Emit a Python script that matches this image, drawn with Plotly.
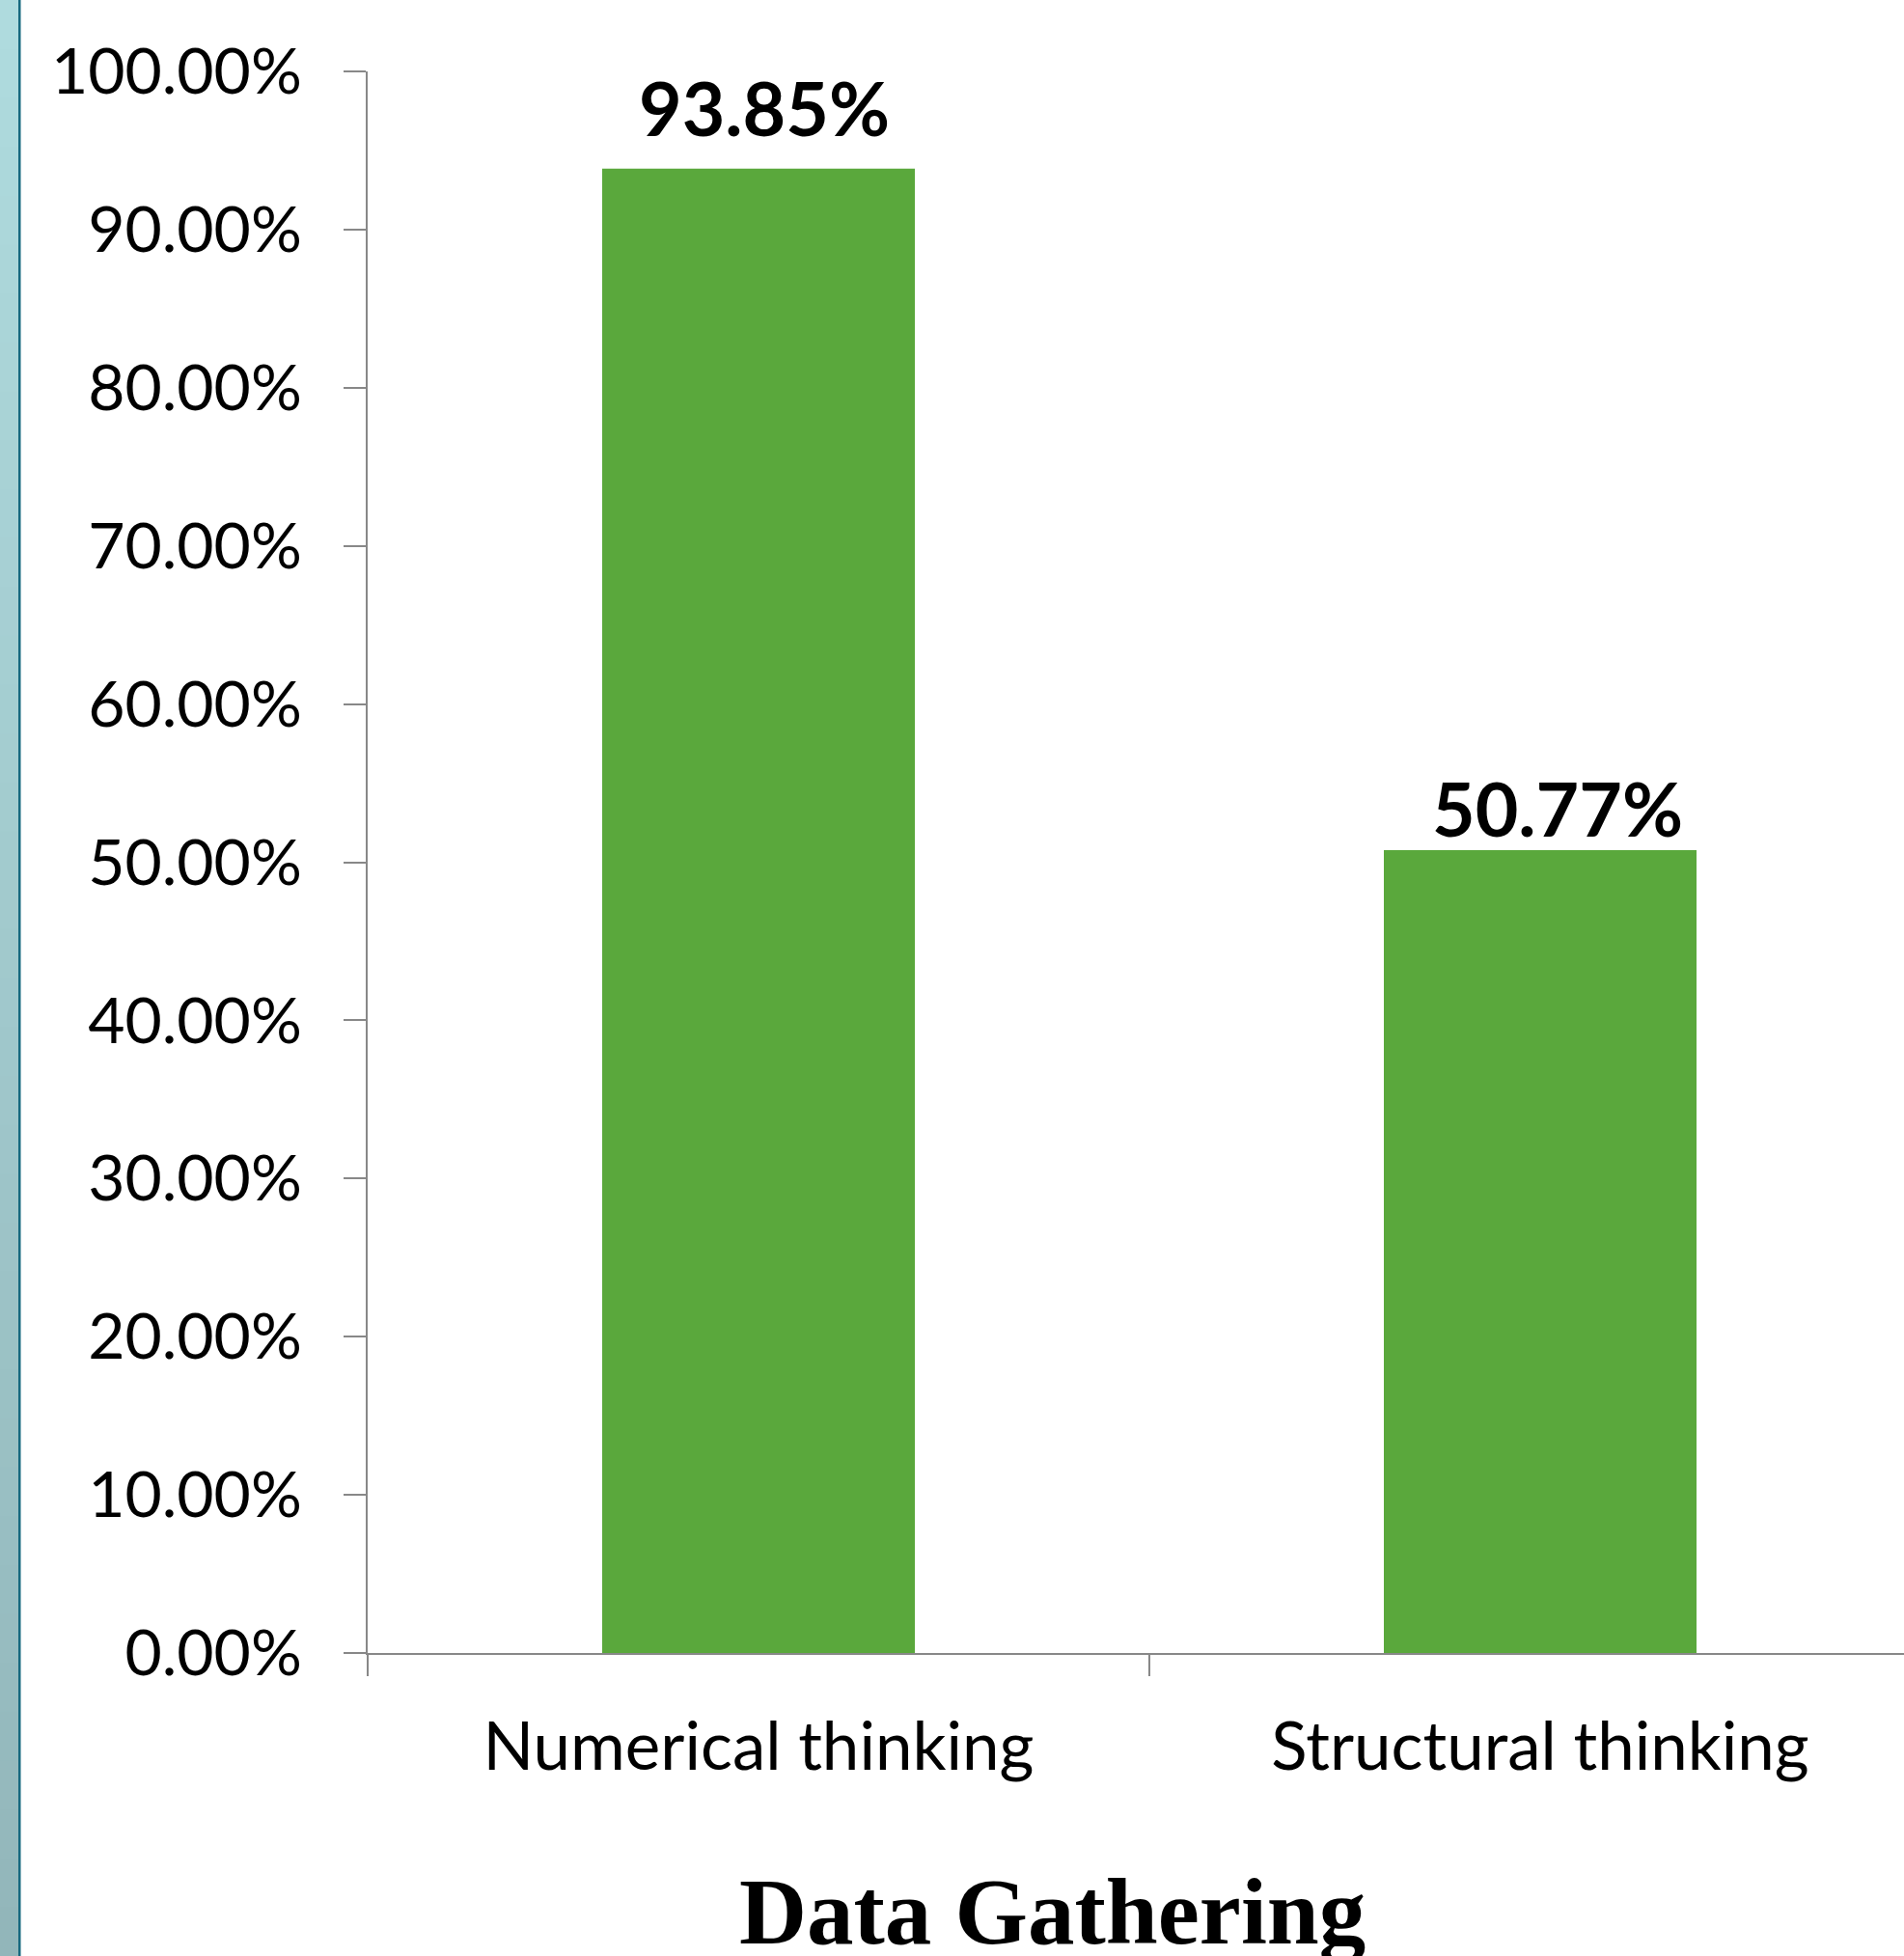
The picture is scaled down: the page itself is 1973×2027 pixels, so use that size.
import plotly.graph_objects as go

categories = ["Numerical thinking", "Structural thinking"]
values = [0.9385, 0.5077]
value_labels = ["93.85%", "50.77%"]
title_text = "Data Gathering"

W, H = 1973, 2027
L, R, T, B = 381, 0, 74, 314
PW, PH = W - L - R, H - T - B

def px_x(p):
    return (p - L) / PW

def px_y(p):
    return (H - B - p) / PH

bar_color = "#5AA83C"
axis_color = "#888888"

fig = go.Figure()
fig.add_trace(go.Bar(
    x=categories, y=values, marker=dict(color=bar_color, line=dict(width=0)),
    width=0.4, hoverinfo="skip", showlegend=False,
))

# data labels
shifts = [(6, 16), (18, -4)]
for c, v, t, (xs, ys) in zip(categories, values, value_labels, shifts):
    fig.add_annotation(x=c, y=v, xref="x", yref="y", text="<b>" + t + "</b>",
                       showarrow=False, yanchor="bottom", xanchor="center",
                       xshift=xs, yshift=ys,
                       font=dict(family="Lato", size=77, color="#000000"))

# title
fig.add_annotation(x=px_x(1090), xref="paper", y=px_y(1926), yref="paper",
                   text="<b>" + title_text + "</b>", showarrow=False,
                   xanchor="center", yanchor="top",
                   font=dict(family="Liberation Serif", size=97, color="#000000"))

# left decorative strip (gradient approximated by bands)
top_rgb = (0xAF, 0xDB, 0xDE)
bot_rgb = (0x92, 0xB6, 0xBA)
n = 40
for i in range(n):
    f = (i + 0.5) / n
    col = "rgb(%d,%d,%d)" % tuple(round(a + (b - a) * f) for a, b in zip(top_rgb, bot_rgb))
    y0p = H * i / n
    y1p = H * (i + 1) / n + 1
    fig.add_shape(type="rect", xref="paper", yref="paper",
                  x0=px_x(0), x1=px_x(19), y0=px_y(y1p), y1=px_y(y0p),
                  fillcolor=col, line=dict(width=0), layer="below")
fig.add_shape(type="rect", xref="paper", yref="paper",
              x0=px_x(19), x1=px_x(21.5), y0=px_y(H + 2), y1=px_y(-2),
              fillcolor="#17697F", line=dict(width=0), layer="below")

tick_font = dict(family="Lato", size=66, color="#000000")
cat_font = dict(family="Lato", size=69, color="#000000")

fig.update_layout(
    width=W, height=H,
    margin=dict(l=L, r=R, t=T, b=B, pad=0),
    paper_bgcolor="white", plot_bgcolor="white",
    bargap=0.6,
    xaxis=dict(
        type="category", range=[-0.5, -0.5 + PW / 810.0],
        showline=True, linecolor=axis_color, linewidth=2,
        ticks="outside", tickson="boundaries", ticklen=22, tickwidth=2, tickcolor=axis_color,
        showgrid=False, zeroline=False, tickfont=cat_font, ticklabelstandoff=36,
    ),
    yaxis=dict(
        range=[0, 1], dtick=0.1, tick0=0, tickformat=".2%",
        showline=True, linecolor=axis_color, linewidth=2,
        ticks="outside", ticklen=23, tickwidth=2, tickcolor=axis_color,
        showgrid=False, zeroline=False, tickfont=tick_font, ticklabelstandoff=30,
    ),
)

fig.write_html("out.html", config={"displayModeBar": False},
               post_script="document.body.style.margin='0';document.body.style.padding='0';")
